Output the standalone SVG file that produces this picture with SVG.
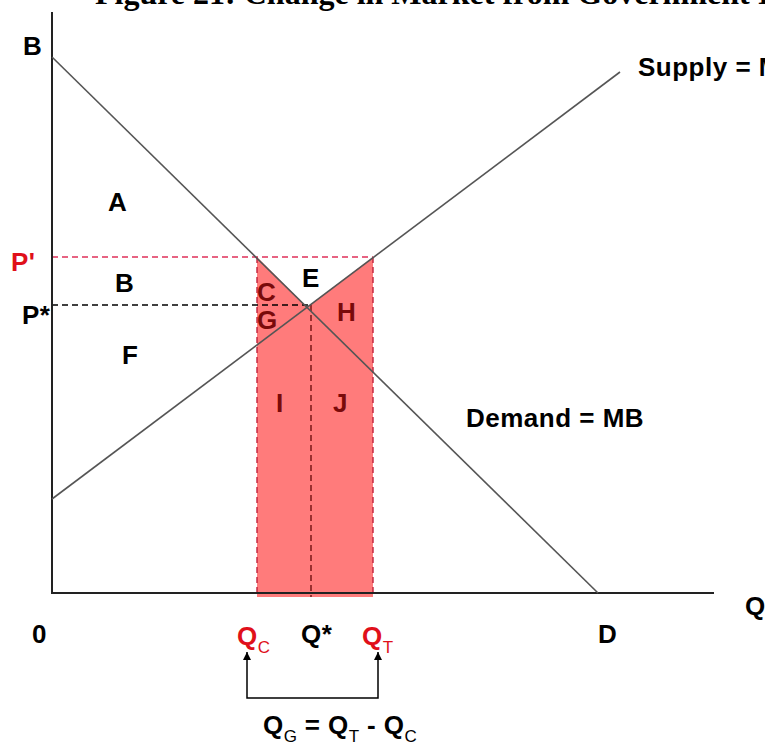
<svg xmlns="http://www.w3.org/2000/svg" width="765" height="747" viewBox="0 0 765 747">
<defs>
<style>
.lbl{font-family:"Liberation Sans",Arial,sans-serif;font-weight:bold;font-size:26px;letter-spacing:0.5px;fill:#000}
.red{fill:#e0101a}
.dk{fill:#7a0a0a}
.sub{font-family:"Liberation Sans",Arial,sans-serif;font-weight:normal;font-size:17px;letter-spacing:0}
.curve{stroke:#555;stroke-width:1.6;fill:none}
.axis{stroke:#222;stroke-width:2;fill:none}
.dash{stroke-dasharray:6 4;stroke-width:1.4;fill:none}
</style>
<marker id="ah" viewBox="0 0 10 10" refX="10" refY="5" markerWidth="10" markerHeight="8" orient="auto-start-reverse" markerUnits="userSpaceOnUse">
<path d="M0,0 L10,5 L0,10 Z" fill="#000"/>
</marker>
</defs>
<rect width="765" height="747" fill="#fff"/>
<text x="95" y="4" font-family="'Liberation Serif','Times New Roman',serif" font-weight="bold" font-size="32">Figure 21: Change in Market from Government Intervention</text>

<g id="shade">
<polygon points="257,257 307,307 373,257 373,597 257,597" fill="#ff7b7b"/>
<line x1="257" y1="257" x2="257" y2="597" class="dash" stroke="#c0203a"/>
<line x1="373" y1="257" x2="373" y2="597" class="dash" stroke="#c0203a"/>
<line x1="52" y1="257" x2="373" y2="257" class="dash" stroke="#e0305a"/>
<line x1="52" y1="305" x2="308" y2="305" class="dash" stroke="#000"/>
<line x1="311" y1="305" x2="311" y2="597" class="dash" stroke="#701010"/>
</g>

<g id="axes">
<line x1="52" y1="12" x2="52" y2="594" class="axis"/>
<line x1="51" y1="593" x2="714" y2="593" class="axis"/>
</g>

<g id="curves">
<line id="demand" x1="52" y1="57" x2="598" y2="593" class="curve"/>
<line id="supply" x1="52" y1="499" x2="620" y2="72" class="curve"/>
</g>

<g id="labels">
<text x="23" y="55" class="lbl">B</text>
<text x="638" y="76" class="lbl">Supply = MC</text>
<text x="108" y="211" class="lbl">A</text>
<text x="11" y="271" class="lbl red">P'</text>
<text x="115" y="292" class="lbl">B</text>
<text x="302" y="287" class="lbl">E</text>
<text x="257" y="301" class="lbl dk">C</text>
<text x="257" y="329" class="lbl dk">G</text>
<text x="337" y="321" class="lbl dk">H</text>
<text x="22" y="324" class="lbl">P*</text>
<text x="122" y="364" class="lbl">F</text>
<text x="276" y="412" class="lbl dk">I</text>
<text x="333" y="412" class="lbl dk">J</text>
<text x="466" y="427" class="lbl">Demand = MB</text>
<text x="745" y="615" class="lbl">Q</text>
<text x="32" y="643" class="lbl">0</text>
<text x="237" y="645" class="lbl red">Q<tspan class="sub" dy="8">C</tspan></text>
<text x="301" y="643" class="lbl">Q*</text>
<text x="362" y="645" class="lbl red">Q<tspan class="sub" dy="8">T</tspan></text>
<text x="598" y="643" class="lbl">D</text>
<text x="263" y="734" class="lbl">Q<tspan class="sub" dy="8" fill="#000">G</tspan><tspan dy="-8"> = Q</tspan><tspan class="sub" dy="8">T</tspan><tspan dy="-8"> - Q</tspan><tspan class="sub" dy="8">C</tspan></text>
</g>

<g id="connectors">
<path d="M247,652 L247,698 L378,698 L378,652" fill="none" stroke="#000" stroke-width="1.5" marker-start="url(#ah)" marker-end="url(#ah)"/>
</g>
</svg>
